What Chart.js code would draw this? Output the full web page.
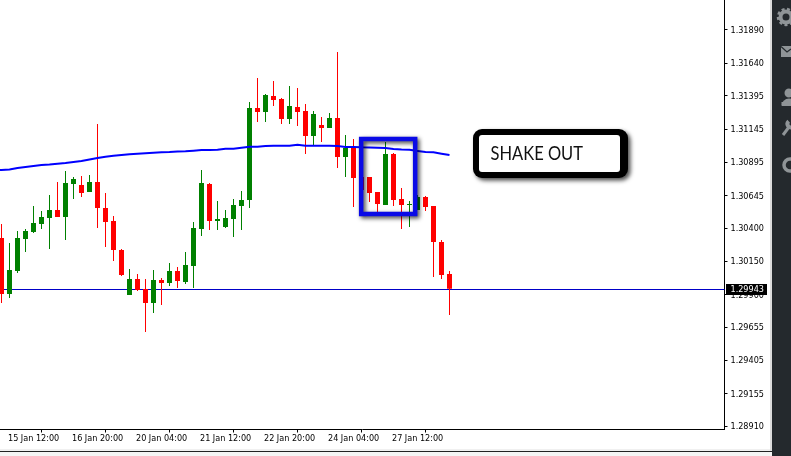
<!DOCTYPE html>
<html>
<head>
<meta charset="utf-8">
<script src="https://cdn.jsdelivr.net/npm/chart.js@4"></script>
<style>html,body{margin:0;padding:0;background:#fff;overflow:hidden}canvas{display:block}</style>
</head>
<body>
<canvas id="c" width="791" height="456"></canvas>
<script>
const opens  = [1.30325,1.29903,1.30077,1.30317,1.30370,1.30430,1.30475,1.30536,1.30483,1.30731,1.30724,1.30671,1.30746,1.30551,1.30453,1.30235,1.29896,1.30016,1.29941,1.29836,1.30009,1.29986,1.30077,1.29994,1.30114,1.30393,1.30731,1.30453,1.30408,1.30468,1.30566,1.30611,1.31303,1.31273,1.31393,1.31371,1.31220,1.31311,1.31281,1.31092,1.31175,1.31153,1.31228,1.30934,1.31002,1.30784,1.30784,1.30671,1.30573,1.30957,1.30618,1.30573,1.30536,1.30633,1.30566,1.30295,1.30054];
const highs  = [1.30430,1.30287,1.30378,1.30393,1.30566,1.30528,1.30648,1.30746,1.30829,1.30784,1.30791,1.30799,1.31183,1.30663,1.30490,1.30242,1.30092,1.30054,1.30016,1.30084,1.30024,1.30137,1.30107,1.30219,1.30445,1.30837,1.30739,1.30603,1.30536,1.30618,1.30679,1.31348,1.31529,1.31408,1.31506,1.31378,1.31469,1.31454,1.31333,1.31281,1.31235,1.31265,1.31724,1.31100,1.31070,1.30829,1.30784,1.30671,1.31047,1.30964,1.30701,1.30603,1.30648,1.30641,1.30566,1.30310,1.30077];
const lows   = [1.29836,1.29873,1.30061,1.30219,1.30362,1.30393,1.30242,1.30483,1.30310,1.30618,1.30633,1.30671,1.30400,1.30257,1.30152,1.30039,1.29896,1.29926,1.29617,1.29760,1.29821,1.29964,1.29949,1.29979,1.29949,1.30340,1.30385,1.30385,1.30400,1.30332,1.30385,1.30551,1.31198,1.31198,1.31318,1.31183,1.31183,1.31168,1.30957,1.31017,1.31047,1.31153,1.30852,1.30784,1.30558,1.30641,1.30596,1.30520,1.30573,1.30566,1.30393,1.30408,1.30536,1.30528,1.30031,1.30016,1.29745];
const closes = [1.29903,1.30084,1.30325,1.30378,1.30438,1.30483,1.30536,1.30483,1.30739,1.30769,1.30663,1.30746,1.30551,1.30445,1.30235,1.30046,1.30016,1.29934,1.29836,1.30009,1.29986,1.30077,1.30001,1.30122,1.30400,1.30739,1.30453,1.30468,1.30475,1.30573,1.30611,1.31303,1.31273,1.31401,1.31363,1.31220,1.31318,1.31273,1.31092,1.31258,1.31153,1.31228,1.30934,1.31002,1.30776,1.30686,1.30663,1.30581,1.30957,1.30611,1.30573,1.30581,1.30633,1.30558,1.30295,1.30046,1.29943];
const movingAverage = [1.30834,1.30837,1.30840,1.30852,1.30859,1.30867,1.30874,1.30878,1.30884,1.30889,1.30897,1.30904,1.30916,1.30927,1.30937,1.30944,1.30949,1.30955,1.30959,1.30963,1.30967,1.30970,1.30972,1.30976,1.30978,1.30982,1.30987,1.30987,1.30989,1.30997,1.30997,1.31004,1.31012,1.31012,1.31017,1.31019,1.31019,1.31019,1.31027,1.31019,1.31019,1.31019,1.31019,1.31017,1.31010,1.31010,1.31007,1.31006,1.31004,1.31002,1.30995,1.30991,1.30989,1.30980,1.30972,1.30970,1.30959,1.30949];
const priceTicks = [1.32140,1.31890,1.31640,1.31395,1.31145,1.30895,1.30645,1.30400,1.30150,1.29900,1.29655,1.29405,1.29155,1.28910];
const timeTickIndexes = [1,9,17,25,33,41,49];
const timeTickLabels = ["15 Jan 12:00","16 Jan 20:00","20 Jan 04:00","21 Jan 12:00","22 Jan 20:00","24 Jan 04:00","27 Jan 12:00"];
const lastPrice = 1.29943;
const calloutText = "SHAKE OUT";

const RED = "#ff0000", GREEN = "#008000";
const candleColors = closes.map((c,i)=> c >= opens[i] ? GREEN : RED);
const xMin = -0.1875, xMax = 90.375;
const font = {family:"'DejaVu Sans Condensed','DejaVu Sans',sans-serif", size:9};

function roundRect(ctx,x,y,w,h,r){ctx.beginPath();ctx.roundRect(x,y,w,h,r);}

const overlay = {
  id:"overlay",
  beforeDraw(chart){
    const {ctx,width,height} = chart;
    ctx.save();
    ctx.fillStyle="#fff";ctx.fillRect(0,0,width,height);
    ctx.restore();
  },
  beforeDatasetsDraw(chart){
    const {ctx,chartArea,scales:{y}} = chart;
    ctx.save();
    ctx.fillStyle="#0000c8";
    ctx.fillRect(chartArea.left,Math.ceil(y.getPixelForValue(lastPrice)),chartArea.right-chartArea.left,1);
    ctx.restore();
  },
  afterDraw(chart){
    const {ctx,height,scales:{x,y}} = chart;
    ctx.save();
    // shake-out frame, anchored to candles
    const fl=x.getPixelForValue(44.96), fr=x.getPixelForValue(51.71);
    const ft=139, fb=214;
    ctx.save();
    ctx.shadowColor="rgba(0,0,0,0.75)";ctx.shadowBlur=4;ctx.shadowOffsetX=2;ctx.shadowOffsetY=2;
    ctx.strokeStyle="#0a0ae6";ctx.lineWidth=4.5;
    ctx.strokeRect(fl,ft,fr-fl,fb-ft);
    ctx.restore();
    // callout
    ctx.save();
    ctx.shadowColor="rgba(0,0,0,0.7)";ctx.shadowBlur=4;ctx.shadowOffsetX=2.5;ctx.shadowOffsetY=2.5;
    ctx.fillStyle="#000";roundRect(ctx,473,129,155,49,9);ctx.fill();
    ctx.restore();
    ctx.fillStyle="#fff";roundRect(ctx,479,135,141,37,3);ctx.fill();
    ctx.save();
    ctx.fillStyle="#111";ctx.font="19px Lato, sans-serif";ctx.textBaseline="alphabetic";ctx.textAlign="left";
    const sx=92.5/ctx.measureText(calloutText).width;
    ctx.translate(490.5,160);ctx.scale(sx,1);
    ctx.fillText(calloutText,0,0);
    ctx.restore();
    // last price tag
    const py=y.getPixelForValue(lastPrice);
    ctx.fillStyle="#000";ctx.fillRect(726,284,41,11);
    ctx.fillStyle="#fff";ctx.font=font.size+"px "+font.family;ctx.textBaseline="middle";ctx.textAlign="left";
    ctx.fillText(lastPrice.toFixed(5),730.5,py+0.9);
    // window chrome
    ctx.fillStyle="#dcdcdc";ctx.fillRect(770,0,2,height);
    ctx.fillStyle="#24292d";ctx.fillRect(772,0,19,height);
    ctx.fillStyle="#f0f0f0";ctx.fillRect(0,449,770,3);
    ctx.fillStyle="#222";ctx.fillRect(0,451,772,1);
    ctx.fillStyle="#f4f4f4";ctx.fillRect(0,452,772,4);
    // sidebar icons
    ctx.fillStyle=ctx.strokeStyle="#8f9497";
    ctx.lineWidth=4;ctx.beginPath();ctx.arc(786,17,5.5,0,7);ctx.stroke();
    ctx.lineWidth=2.5;ctx.setLineDash([3,2.5]);ctx.beginPath();ctx.arc(786,17,8,0,7);ctx.stroke();ctx.setLineDash([]);
    ctx.fillRect(781,46,10,11);
    ctx.strokeStyle="#24292d";ctx.lineWidth=1.2;ctx.beginPath();ctx.moveTo(781,46.5);ctx.lineTo(787,52);ctx.lineTo(791,49);ctx.stroke();
    ctx.fillStyle="#8f9497";
    ctx.beginPath();ctx.arc(789,93,4.5,0,7);ctx.fill();
    ctx.beginPath();ctx.arc(789,106,7.5,Math.PI,0);ctx.fill();ctx.fillRect(781.5,102,10,3);
    ctx.strokeStyle="#8f9497";ctx.lineWidth=3;ctx.beginPath();ctx.moveTo(783,135);ctx.lineTo(789,127);ctx.stroke();
    ctx.lineWidth=4;ctx.beginPath();ctx.arc(791,124,3.5,1,4);ctx.stroke();
    ctx.lineWidth=3.5;ctx.beginPath();ctx.arc(790,165,6,0,7);ctx.stroke();
    ctx.restore();
  }
};

new Chart(document.getElementById("c"),{
  type:"bar",
  data:{datasets:[
    {type:"line",label:"Moving average",order:1,
     data:movingAverage.map((v,i)=>({x:i-1,y:v})),
     borderColor:"#0000ff",borderWidth:2,pointRadius:0,tension:0},
    {label:"Body",order:3,
     data:opens.map((o,i)=>({x:i,y:[o,closes[i]]})),
     backgroundColor:candleColors,barThickness:5,grouped:false,inflateAmount:0,borderWidth:0},
    {label:"Wick",order:4,
     data:lows.map((l,i)=>({x:i,y:[l,highs[i]]})),
     backgroundColor:candleColors,barThickness:1,grouped:false,inflateAmount:0,borderWidth:0}
  ]},
  options:{
    responsive:false,animation:false,
    layout:{padding:0},
    plugins:{legend:{display:false},tooltip:{enabled:false},title:{display:false}},
    scales:{
      x:{type:"linear",min:xMin,max:xMax,offset:false,
        afterBuildTicks(s){s.ticks=timeTickIndexes.map(v=>({value:v}));},
        afterFit(s){s.height=26.5;s.paddingLeft=0;s.paddingRight=0;},
        grid:{drawOnChartArea:false,drawTicks:true,tickLength:3,color:"#000"},
        border:{color:"#000",width:1},
        ticks:{autoSkip:false,maxRotation:0,minRotation:0,align:"start",padding:1,labelOffset:-1.5,color:"#000",font,
          callback(v){const k=timeTickIndexes.indexOf(v);return k>=0?timeTickLabels[k]:"";}}
      },
      y:{type:"linear",position:"right",min:1.2888375,max:1.3211575,
        afterBuildTicks(s){s.ticks=priceTicks.map(v=>({value:v}));},
        afterFit(s){s.width=66.5;s.paddingTop=0;s.paddingBottom=0;},
        grid:{drawOnChartArea:false,drawTicks:true,tickLength:3,color:"#000"},
        border:{color:"#000",width:1},
        ticks:{autoSkip:false,padding:3,labelOffset:0.8,color:"#000",font,callback(v){return Number(v).toFixed(5);}}
      }
    }
  },
  plugins:[overlay]
});
</script>
</body>
</html>
